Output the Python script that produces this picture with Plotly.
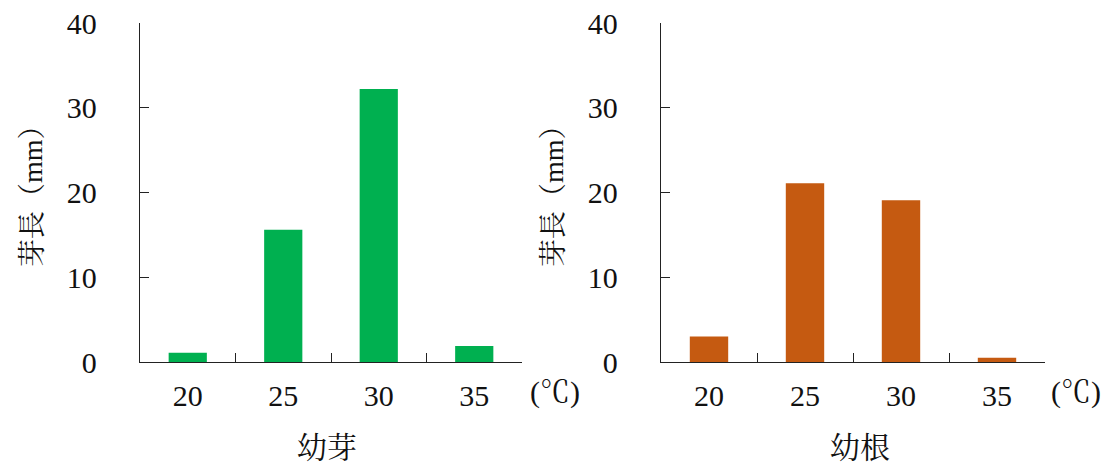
import plotly.graph_objects as go

temps = ["20", "25", "30", "35"]
shoot_len = [1.1, 15.6, 32.2, 1.9]   # 幼芽
root_len = [3.0, 21.1, 19.1, 0.5]    # 幼根
panel_titles = ["幼芽", "幼根"]
y_title = "芽長（mm）"
unit_label = "(℃)"
y_ticks = [0, 10, 20, 30, 40]

FONT = "Liberation Serif, Noto Serif CJK JP, Noto Sans CJK JP, serif"
W, H = 1112, 469

fig = go.Figure()
fig.add_trace(go.Bar(x=temps, y=shoot_len, marker=dict(color="#00B050", line=dict(width=0)),
                     width=0.4, xaxis="x", yaxis="y", showlegend=False))
fig.add_trace(go.Bar(x=temps, y=root_len, marker=dict(color="#C55A11", line=dict(width=0)),
                     width=0.4, xaxis="x2", yaxis="y2", showlegend=False))

def px(x):
    return x / W

def py(y):
    return (H - y) / H

ydom = [py(362), py(23)]
xdom1 = [px(140), px(522)]
xdom2 = [px(661), px(1045)]

xcommon = dict(type="category", range=[-0.5, 3.5], showline=True, linecolor="#222", linewidth=1.3,
               ticks="inside", ticklen=9, tickcolor="#222", tickwidth=1.3, tickson="boundaries",
               showgrid=False, zeroline=False, tickfont=dict(family=FONT, size=30, color="#111"),
               ticklabelstandoff=7, automargin=False)
ycommon = dict(range=[0, 40], tickvals=y_ticks, showline=True, linecolor="#222", linewidth=1.3,
               ticks="inside", ticklen=9, tickcolor="#222", tickwidth=1.3, showgrid=False,
               zeroline=False, tickfont=dict(family=FONT, size=30, color="#111"),
               ticklabelstandoff=36, automargin=False)

fig.update_layout(
    width=W, height=H, margin=dict(l=0, r=0, t=0, b=0),
    plot_bgcolor="white", paper_bgcolor="white", bargap=0.6,
    xaxis=dict(domain=xdom1, anchor="y", **xcommon),
    yaxis=dict(domain=ydom, anchor="x", **ycommon),
    xaxis2=dict(domain=xdom2, anchor="y2", **xcommon),
    yaxis2=dict(domain=ydom, anchor="x2", **ycommon),
)

anns = []
for cx, title in zip([327, 860], panel_titles):
    anns.append(dict(x=px(cx), y=py(447), xref="paper", yref="paper", text=title, showarrow=False,
                     font=dict(family=FONT, size=30, color="#111"), xanchor="center", yanchor="middle"))
for cx in [32, 553]:
    anns.append(dict(x=px(cx), y=py(189), xref="paper", yref="paper", text=y_title, showarrow=False,
                     textangle=-90, font=dict(family=FONT, size=28, color="#111"),
                     xanchor="center", yanchor="middle"))
for cx in [555, 1076]:
    anns.append(dict(x=px(cx), y=py(392), xref="paper", yref="paper", text=unit_label, showarrow=False,
                     font=dict(family=FONT, size=30, color="#111"), xanchor="center", yanchor="middle"))
fig.update_layout(annotations=anns)

fig.write_html("out.html", config={"displayModeBar": False},
               post_script="document.body.style.margin='0';document.body.style.overflow='hidden';")
